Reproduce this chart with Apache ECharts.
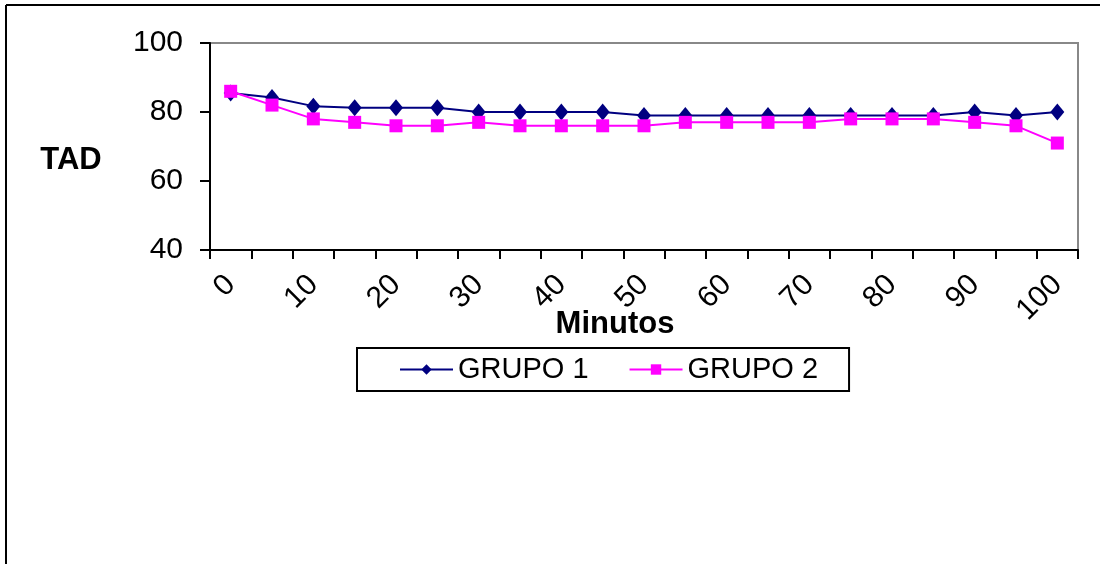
<!DOCTYPE html>
<html>
<head>
<meta charset="utf-8">
<script src="https://cdn.jsdelivr.net/npm/echarts@6/dist/echarts.min.js"></script>
<style>
html,body{margin:0;padding:0;background:#fff;}
#c{width:1100px;height:564px;}
</style>
</head>
<body>
<div id="c"></div>
<script>
const categories = ['0','5','10','15','20','25','30','35','40','45','50','55','60','65','70','75','80','85','90','95','100'];
const grupo1 = [85.5, 84.2, 81.7, 81.2, 81.2, 81.2, 80, 80, 80, 80, 79, 79, 79, 79, 79, 79, 79, 79, 80, 79, 80];
const grupo2 = [86, 82, 78, 77, 76, 76, 77, 76, 76, 76, 76, 77, 77, 77, 77, 78, 78, 78, 77, 76, 71];
const yTicks = {min: 40, max: 100, interval: 20};

const font = '"Liberation Sans", Arial, sans-serif';
const chart = echarts.init(document.getElementById('c'), null, {renderer: 'canvas'});
chart.setOption({
  animation: false,
  backgroundColor: '#fff',
  grid: {left: 210, right: 22, top: 43, bottom: 314, show: true, borderColor: '#888', borderWidth: 2, backgroundColor: 'transparent'},
  legend: {
    left: 357, top: 348,
    orient: 'horizontal',
    borderColor: '#000', borderWidth: 2,
    padding: [7, 31, 7, 42],
    itemGap: 40,
    itemWidth: 53, itemHeight: 13,
    textStyle: {fontFamily: font, fontSize: 29, color: '#000', lineHeight: 29},
    data: ['GRUPO 1', 'GRUPO 2']
  },
  xAxis: {
    type: 'category',
    data: categories,
    boundaryGap: true,
    axisLine: {lineStyle: {color: '#000', width: 2}},
    axisTick: {show: true, interval: 0, length: 9, inside: false, lineStyle: {color: '#000', width: 2}},
    axisLabel: {interval: 1, rotate: 45, margin: 30, fontFamily: font, fontSize: 30, color: '#000'},
    splitLine: {show: false}
  },
  yAxis: {
    type: 'value',
    min: yTicks.min, max: yTicks.max, interval: yTicks.interval,
    axisLine: {show: true, lineStyle: {color: '#000', width: 2}},
    axisTick: {show: true, length: 10, lineStyle: {color: '#000', width: 2}},
    axisLabel: {margin: 27, fontFamily: font, fontSize: 30, color: '#000'},
    splitLine: {show: false}
  },
  graphic: [
    {type: 'line', shape: {x1: 6, y1: 5, x2: 1100, y2: 5}, style: {stroke: '#000', lineWidth: 2}, z: 100},
    {type: 'line', shape: {x1: 6, y1: 5, x2: 6, y2: 564}, style: {stroke: '#000', lineWidth: 2}, z: 100},
    {type: 'text', x: 71, y: 160, style: {text: 'TAD', font: 'bold 31px ' + font, fill: '#000', textAlign: 'center', textVerticalAlign: 'middle'}},
    {type: 'text', x: 615, y: 324, style: {text: 'Minutos', font: 'bold 31px ' + font, fill: '#000', textAlign: 'center', textVerticalAlign: 'middle'}}
  ],
  series: [
    {
      name: 'GRUPO 1', type: 'line', data: grupo1,
      symbol: 'diamond', symbolSize: [14, 17],
      itemStyle: {color: '#000080'},
      lineStyle: {color: '#000080', width: 2},
      z: 2
    },
    {
      name: 'GRUPO 2', type: 'line', data: grupo2,
      symbol: 'rect', symbolSize: 13,
      itemStyle: {color: '#FF00FF'},
      lineStyle: {color: '#FF00FF', width: 2},
      z: 3
    }
  ]
});
</script>
</body>
</html>
